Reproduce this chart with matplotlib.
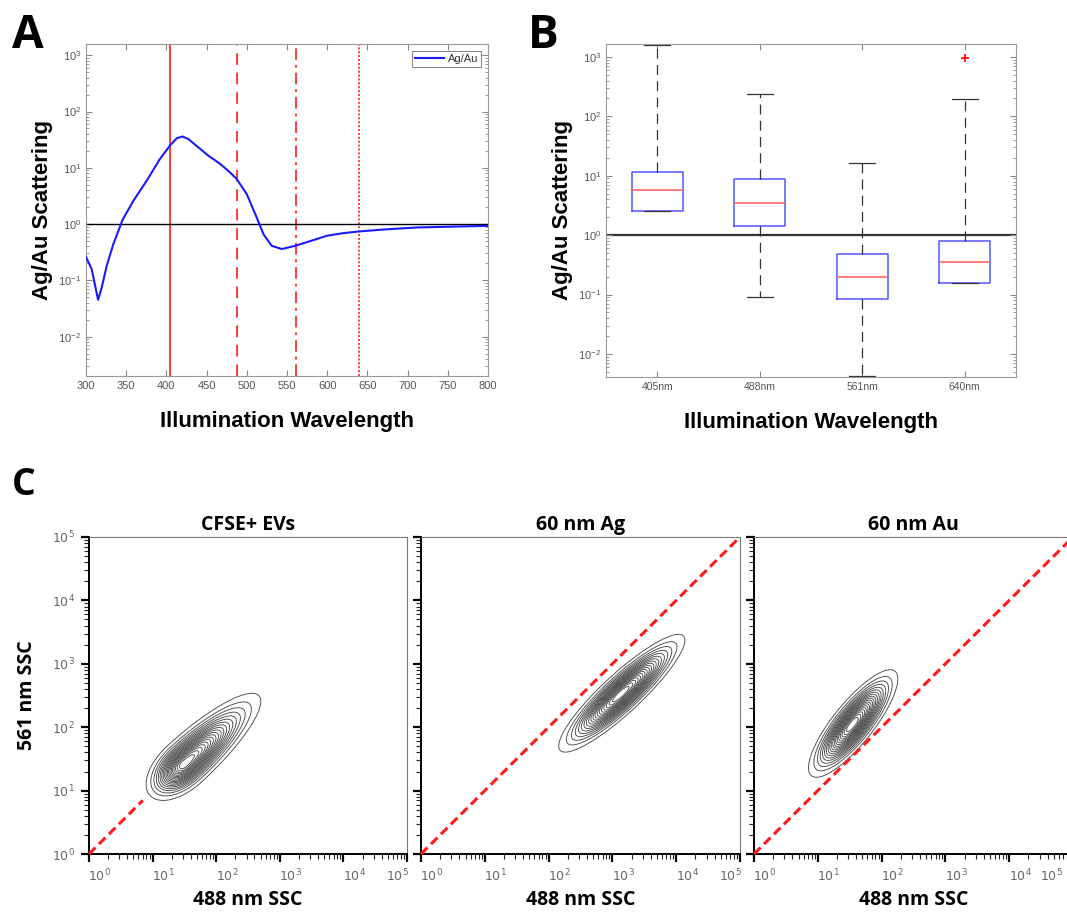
import numpy as np
import matplotlib
matplotlib.use('Agg')
import matplotlib.pyplot as plt
from matplotlib.ticker import LogLocator, NullFormatter
import matplotlib.transforms as mtransforms

plt.rcParams['mathtext.fontset'] = 'custom'
plt.rcParams['mathtext.rm'] = 'Liberation Sans'
plt.rcParams['mathtext.it'] = 'Liberation Sans'

# ---------------- Panel A data ----------------
wavelength = [300, 307, 315, 319.5, 325.7, 334, 345.6, 359, 375.5, 392, 404.6, 413,
              420, 427, 442, 452, 467, 479, 487.5, 500, 512.4, 520.7, 531, 543.6,
              560, 583, 599.6, 620, 640, 670, 711.6, 800]
ratio = [0.26, 0.16, 0.045, 0.074, 0.18, 0.44, 1.2, 2.6, 5.9, 14.4, 25, 33.6,
         36, 32.6, 21.7, 16.5, 11.7, 8.3, 6.3, 3.4, 1.3, 0.66, 0.41, 0.36,
         0.41, 0.52, 0.62, 0.69, 0.74, 0.80, 0.87, 0.93]
laser_lines = [405, 488, 561, 640]
laser_styles = ['-', (0, (6, 4)), (0, (6, 2.5, 1.5, 2.5)), (0, (1, 1))]

# ---------------- Panel B data ----------------
box_labels = ['405nm', '488nm', '561nm', '640nm']
box_whislo = [2.6, 0.09, 0.0042, 0.155]
box_q1 = [2.6, 1.42, 0.083, 0.155]
box_med = [5.7, 3.5, 0.2, 0.35]
box_q3 = [11.5, 8.8, 0.48, 0.79]
box_whishi = [1600, 240, 16.4, 196]
box_fliers = [[], [], [], [950]]

# ---------------- Panel C data (log10 population parameters) ----------------
c_titles = ['CFSE+ EVs', '60 nm Ag', '60 nm Au']
c_cx = [1.50, 3.13, 1.54]
c_cy = [1.42, 2.52, 2.04]
c_sig_lo = [0.30, 0.53, 0.42]     # spread along the diagonal, lower-left side
c_sig_hi = [0.65, 0.55, 0.44]     # spread along the diagonal, upper-right side
c_sig_minor = [0.16, 0.125, 0.13]
c_angle = [42.6, 43, 51.6]
diag_x = [[1, 7], [1, 1e5], [1, 1e5]]

W, H = 1067, 914
fig = plt.figure(figsize=(W / 100, H / 100), dpi=100)


def rect(l, t, r, b):
    return [l / W, 1 - b / H, (r - l) / W, (b - t) / H]


ab_font = 'Liberation Sans'
c_font = 'Open Sans'
red = '#ff3b3b'

# ---------------- Panel A ----------------
axA = fig.add_axes(rect(86, 44, 488, 376))
axA.plot(wavelength, ratio, color='#1a1aff', lw=1.5, label='Ag/Au', zorder=3)
for wl, ls in zip(laser_lines, laser_styles):
    axA.axvline(wl, color=red, lw=1.4, ls=ls, zorder=2)
axA.axhline(1, color='black', lw=1.0, zorder=2)
axA.set_yscale('log')
axA.set_xlim(300, 800)
axA.set_ylim(10 ** -2.7, 10 ** 3.2)
axA.set_xticks(np.arange(300, 801, 50))
axA.yaxis.set_major_locator(LogLocator(base=10, numticks=10))
axA.yaxis.set_minor_locator(LogLocator(base=10, subs=np.arange(2, 10), numticks=10))
axA.yaxis.set_minor_formatter(NullFormatter())
axA.tick_params(which='both', direction='in', top=True, right=True, color='#888888',
                labelcolor='#555555', labelsize=8)
axA.tick_params(which='major', length=4)
axA.tick_params(which='minor', length=2)
for s in axA.spines.values():
    s.set_color('#999999')
    s.set_linewidth(0.8)
leg = axA.legend(loc='upper right', fontsize=8, fancybox=False, handlelength=2.6,
                 handletextpad=0.3, borderpad=0.3, borderaxespad=0.6, framealpha=1)
leg.get_frame().set_edgecolor('#888888')
leg.get_frame().set_linewidth(0.8)
for t in leg.get_texts():
    t.set_family(ab_font)
    t.set_color('#333333')
axA.set_xlabel('Illumination Wavelength', fontsize=16, fontweight='bold', family=ab_font)
axA.set_ylabel('Ag/Au Scattering', fontsize=16, fontweight='bold', family=ab_font)
axA.xaxis.set_label_coords(0.5, -0.105)
axA.yaxis.set_label_coords(-0.083, 0.5)
for lbl in axA.get_xticklabels() + axA.get_yticklabels():
    lbl.set_family(ab_font)

# ---------------- Panel B ----------------
axB = fig.add_axes(rect(606, 44, 1016, 377))
stats = []
for i in range(len(box_labels)):
    stats.append(dict(whislo=box_whislo[i], q1=box_q1[i], med=box_med[i], q3=box_q3[i],
                      whishi=box_whishi[i], fliers=box_fliers[i], label=box_labels[i]))
positions = np.arange(1, len(box_labels) + 1)
axB.axhline(1, color='#333333', lw=1.6, zorder=1)
axB.bxp(stats, positions=positions, widths=0.5, showfliers=True,
        boxprops=dict(color='#5555ff', lw=1.1),
        medianprops=dict(color='#ff6666', lw=1.2),
        whiskerprops=dict(color='#333333', lw=0.9, ls=(0, (8, 5))),
        capprops=dict(color='#333333', lw=0.9),
        flierprops=dict(marker='+', markeredgecolor='red', markersize=6, markeredgewidth=1.2))
axB.set_yscale('log')
axB.set_xlim(0.5, 4.5)
axB.set_ylim(0.0041, 1650)
axB.set_xticks(positions)
axB.set_xticklabels(box_labels)
axB.yaxis.set_major_locator(LogLocator(base=10, numticks=10))
axB.yaxis.set_minor_locator(LogLocator(base=10, subs=np.arange(2, 10), numticks=10))
axB.yaxis.set_minor_formatter(NullFormatter())
axB.tick_params(which='both', direction='in', top=True, right=True, color='#888888',
                labelcolor='#555555', labelsize=8)
axB.tick_params(axis='x', labelsize=7.5)
axB.tick_params(which='major', length=4)
axB.tick_params(which='minor', length=2)
for s in axB.spines.values():
    s.set_color('#999999')
    s.set_linewidth(0.8)
axB.set_xlabel('Illumination Wavelength', fontsize=16, fontweight='bold', family=ab_font)
axB.set_ylabel('Ag/Au Scattering', fontsize=16, fontweight='bold', family=ab_font)
axB.xaxis.set_label_coords(0.5, -0.105)
axB.yaxis.set_label_coords(-0.08, 0.5)
for lbl in axB.get_xticklabels() + axB.get_yticklabels():
    lbl.set_family(ab_font)

# ---------------- Panel C ----------------
c_rects = [rect(89, 537, 407, 854), rect(421, 537, 740, 854), rect(754, 537, 1073, 854)]
g = np.linspace(0, 5, 601)
GX, GY = np.meshgrid(g, g)
for p in range(3):
    ax = fig.add_axes(c_rects[p])
    th = np.deg2rad(c_angle[p])
    dx = GX - c_cx[p]
    dy = GY - c_cy[p]
    u = dx * np.cos(th) + dy * np.sin(th)
    v = -dx * np.sin(th) + dy * np.cos(th)
    su = np.where(u < 0, c_sig_lo[p], c_sig_hi[p])
    Z = np.exp(-0.5 * ((u / su) ** 2 + (v / c_sig_minor[p]) ** 2))
    levels = np.linspace(0.05, 0.95, 19) * Z.max()
    ax.contour(10 ** GX, 10 ** GY, Z, levels=levels, colors='#4a4a4a', linewidths=0.65)
    ax.plot(diag_x[p], diag_x[p], color='#ff1a1a', lw=2.2, ls=(0, (3, 1.6)), zorder=3,
            clip_on=False)
    ax.set_xscale('log')
    ax.set_yscale('log')
    ax.set_xlim(1, 1e5)
    ax.set_ylim(1, 1e5)
    for a in (ax.xaxis, ax.yaxis):
        a.set_major_locator(LogLocator(base=10, numticks=10))
        a.set_minor_locator(LogLocator(base=10, subs=np.arange(2, 10), numticks=10))
        a.set_minor_formatter(NullFormatter())
    ax.tick_params(which='major', direction='out', length=6, width=1.6, color='black',
                   labelsize=9, labelcolor='#666666', pad=4)
    ax.tick_params(which='minor', direction='out', length=3.5, width=0.8, color='#222222')
    ax.spines['left'].set_color('black')
    ax.spines['bottom'].set_color('black')
    ax.spines['left'].set_linewidth(1.4)
    ax.spines['bottom'].set_linewidth(1.4)
    ax.spines['top'].set_color('#777777')
    ax.spines['right'].set_color('#777777')
    if p > 0:
        ax.set_yticklabels([])
    else:
        ax.set_ylabel('561 nm SSC', fontsize=14, fontweight='bold', family=c_font)
        ax.yaxis.set_label_coords(-0.165, 0.5)
    ax.set_xlabel('488 nm SSC', fontsize=14, fontweight='bold', family=c_font)
    ax.xaxis.set_label_coords(0.5, -0.115)
    ax.text(0.5, 1.022, c_titles[p], transform=ax.transAxes, ha='center', va='baseline',
            fontsize=14, fontweight='bold', family=c_font)
    ticks = ax.xaxis.get_major_ticks()
    vals = ax.get_xticks()
    for t, val in zip(ticks, vals):
        if val >= 1e5:
            shift = -22 if p == 2 else -10
        else:
            shift = 11
        t.label1.set_transform(t.label1.get_transform() +
                               mtransforms.ScaledTranslation(shift / 100, 0, fig.dpi_scale_trans))

# ---------------- Panel letters ----------------
fig.text(12 / W, 1 - 48 / H, 'A', fontsize=33, fontweight='bold', family=c_font, va='baseline')
fig.text(528 / W, 1 - 48 / H, 'B', fontsize=33, fontweight='bold', family=c_font, va='baseline')
fig.text(12 / W, 1 - 495 / H, 'C', fontsize=27, fontweight='bold', family=c_font, va='baseline')

fig.savefig('out.png', dpi=100)
